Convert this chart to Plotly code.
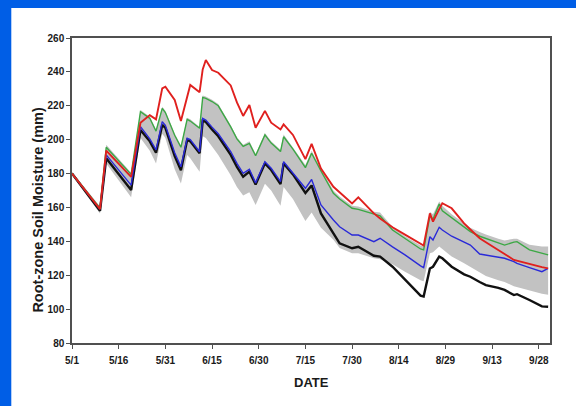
import plotly.graph_objects as go

# Day offsets from May 1
days = [0, 9, 11, 19, 22, 25, 27, 29, 30, 33, 35, 37, 38, 41, 42, 43, 45, 47, 51, 53,
        55, 57, 59, 62, 64, 67, 68, 71, 75, 77, 80, 84, 86, 90, 92, 97, 99, 103, 107, 112,
        113, 115, 116, 118, 119, 122, 126, 128, 131, 133, 137, 139, 142, 143, 147, 151, 153]

red = [180, 159, 193.5, 178, 210, 214.5, 212, 230.3, 231.3, 223.4, 211, 226, 232.3, 228, 241.5, 247, 241.1, 239.5, 232, 222,
       214, 220.5, 207, 217, 210, 206, 209, 202.8, 188.5, 197.5, 183, 172.2, 169, 162.4, 166, 156.5, 153.5, 148.3, 144, 138.5,
       137.5, 156.5, 151.6, 159, 162.5, 159.5, 150.6, 147, 141.8, 139.5, 134.5, 132.5, 129, 128.5, 126.4, 124.8, 124]

green = [180, 159.5, 195.5, 179.5, 216.5, 212.6, 205, 218.5, 216, 202.6, 195.5, 212, 211, 206.7, 225, 224.4, 222.5, 220, 207.5, 200.5,
         196, 197.8, 190.5, 202.8, 198, 193, 201.7, 194.4, 183.5, 192, 181.5, 168.3, 165, 159.5, 158.9, 156, 155, 146.7, 141.5, 135.5,
         135, 155, 153, 162, 158, 153.8, 148, 145.7, 143, 141.8, 139, 137.8, 139.5, 139.8, 135, 133, 132]

blue = [180, 159, 191, 173.2, 207.7, 200.5, 194, 210.6, 208.5, 192.3, 184, 200.8, 200, 192.9, 212.6, 211.6, 207.4, 203.5, 193, 186,
        180.1, 182.5, 174.5, 187, 183.1, 175.2, 187, 180.5, 171.3, 176.5, 161.5, 152.6, 148.6, 143.7, 143.7, 139.8, 141.8, 136.7, 132, 125.5,
        124.5, 142.7, 140.8, 148.3, 146.7, 143, 139.5, 137.8, 132.5, 131.9, 130.5, 130, 128, 127, 124.5, 122.1, 124]

black = [180, 158, 189, 170.3, 205.7, 199, 192.3, 208.7, 207, 190.3, 182, 199.8, 199, 192, 211.2, 210.5, 206, 202, 191, 184,
         178.1, 181.1, 173.5, 186, 182.1, 173.8, 186, 179.5, 168.5, 173, 156.5, 144.7, 138.8, 135.9, 136.8, 131.5, 131, 125, 117.2, 108,
         107.5, 124, 125, 131, 130, 125, 120.5, 119.1, 116, 114.2, 112.5, 111.3, 108.3, 108.8, 105.4, 101.6, 101.4]

band_upper = [181, 160.5, 197, 180.5, 217.5, 213.5, 206, 219.5, 217, 203.5, 196.5, 213, 212, 207.5, 226, 225.5, 223.5, 221, 208.5, 201.5,
              197, 199, 191.5, 204, 199, 194, 203, 195.5, 185, 193.5, 183, 170, 166.5, 161, 160.5, 157.5, 157, 148.5, 143, 137.5,
              137, 157.5, 156, 163.5, 161, 156, 150.5, 148, 145.5, 144, 141.5, 140.5, 141.5, 141.5, 138, 137, 137]

band_lower = [179, 156.5, 186, 166, 201, 193.5, 186, 203.5, 201, 182.5, 174.2, 191, 189, 181, 202, 201, 196, 191, 179, 172,
              167, 169, 161.5, 174, 170, 161, 172, 165, 152, 157, 148, 141, 136, 133, 133, 130, 129.5, 126.5, 122, 117,
              116.5, 133, 133.5, 137, 135.5, 131, 127, 125, 121.5, 119.5, 117, 116, 113.5, 113, 111, 109, 108.5]

tick_days = [0, 15, 30, 45, 60, 75, 90, 105, 120, 135, 150]
tick_labels = ["5/1", "5/16", "5/31", "6/15", "6/30", "7/15", "7/30", "8/14", "8/29", "9/13", "9/28"]

FONT = "Arial, Liberation Sans, sans-serif"
TXT = "#1a1a1a"
AX = "#505050"

fig = go.Figure()
fig.add_trace(go.Scatter(x=days, y=band_lower, mode="lines", line=dict(width=0, color="#c0c0c0"),
                         showlegend=False, hoverinfo="skip"))
fig.add_trace(go.Scatter(x=days, y=band_upper, mode="lines", line=dict(width=0, color="#c0c0c0"),
                         fill="tonexty", fillcolor="#c2c2c2", showlegend=False, hoverinfo="skip"))
fig.add_trace(go.Scatter(x=days, y=black, mode="lines", line=dict(color="#111111", width=2.4), showlegend=False))
fig.add_trace(go.Scatter(x=days, y=blue, mode="lines", line=dict(color="#2a2ad8", width=1.4), showlegend=False))
fig.add_trace(go.Scatter(x=days, y=green, mode="lines", line=dict(color="#3ca845", width=1.4), showlegend=False))
fig.add_trace(go.Scatter(x=days, y=red, mode="lines", line=dict(color="#e0201e", width=1.9), showlegend=False))

axis_common = dict(showline=True, linecolor=AX, linewidth=1.5, mirror=True, ticks="outside",
                   ticklen=4, tickcolor=AX, tickwidth=1.2, showgrid=False, zeroline=False,
                   automargin=False,
                   tickfont=dict(family=FONT, size=10, color=TXT, weight="bold"))

fig.update_xaxes(range=[0, 153.6], tickvals=tick_days, ticktext=tick_labels,
                 ticklabelstandoff=3, **axis_common)
fig.update_yaxes(range=[80, 260], tick0=80, dtick=20, **axis_common)

fig.update_layout(
    width=576, height=406,
    margin=dict(l=72, r=26, t=38, b=63),
    paper_bgcolor="#005ee6", plot_bgcolor="white",
    shapes=[dict(type="rect", xref="paper", yref="paper",
                 x0=-0.127, x1=1.06, y0=-0.21, y1=1.098,
                 fillcolor="white", line=dict(width=0), layer="below")],
    annotations=[
        dict(text="<b>DATE</b>", xref="paper", yref="paper", x=0.5, y=-0.13,
             xanchor="center", yanchor="middle", showarrow=False,
             font=dict(family=FONT, size=13, color=TXT)),
        dict(text="<b>Root-zone Soil Moisture (mm)</b>", xref="paper", yref="paper",
             x=-0.072, y=0.436, xanchor="center", yanchor="middle", textangle=-90,
             showarrow=False, font=dict(family=FONT, size=14.5, color=TXT)),
    ],
    font=dict(family=FONT, color=TXT),
)

fig.write_html("out.html", config={"displayModeBar": False},
               post_script="document.body.style.margin='0px';")
